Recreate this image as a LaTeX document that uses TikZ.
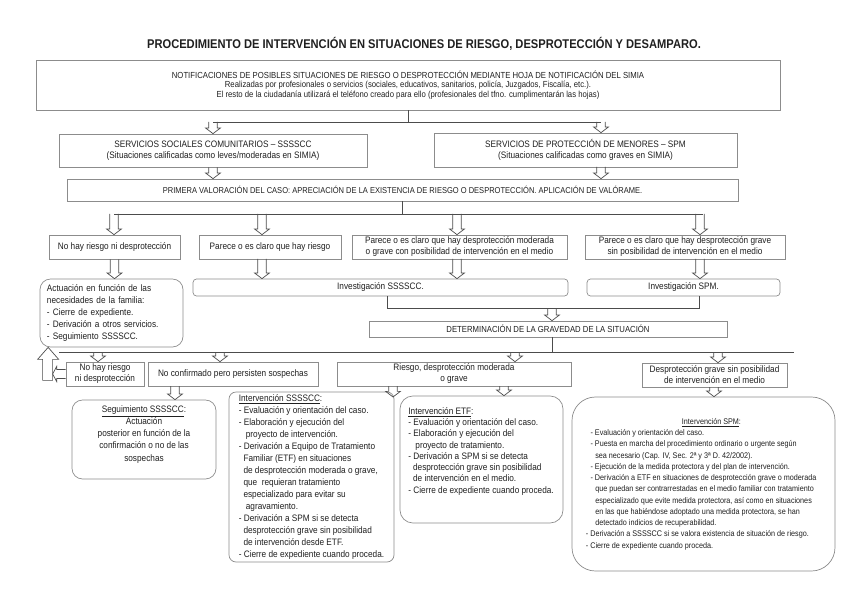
\documentclass[tikz,border=0pt]{standalone}
\usepackage{fontspec}
\setmainfont{Liberation Sans}[FakeStretch=0.88]
\usetikzlibrary{calc,positioning}

\definecolor{bx}{gray}{0.55}
\definecolor{lk}{gray}{0.3}
\definecolor{tx}{gray}{0.12}

\begin{document}
\begin{tikzpicture}[x=0.03cm, y=-0.03cm,
	every node/.style={text=tx, inner sep=1pt, font=\fontsize{8}{10}\selectfont},
	box/.style={draw=bx, line width=0.6pt, align=center},
	rbox/.style={box, rounded corners=#1},
	sz/.style 2 args={minimum width=#1*0.03cm, minimum height=#2*0.03cm},
	lnk/.style={draw=lk, line width=0.6pt},
	hol/.style={lnk, to path={let \p1=(\tikztostart), \p2=(\tikztotarget) in
		({\x1-3.6pt},\y1) -- ({\x1-3.6pt},{\y2+4.8pt}) -- ({\x1-6.3pt},{\y2+4.8pt}) -- (\x1,\y2)
		-- ({\x1+6.3pt},{\y2+4.8pt}) -- ({\x1+3.6pt},{\y2+4.8pt}) -- ({\x1+3.6pt},\y1)}}]
	\useasboundingbox (0,0) rectangle (848,599);

	\node[font=\bfseries\fontsize{10.8}{12}\selectfont] (title) at (424,44)
		{PROCEDIMIENTO DE INTERVENCIÓN EN SITUACIONES DE RIESGO, DESPROTECCIÓN Y DESAMPARO.};

	% notificacion y servicios
	\node[box, sz={744}{50}, font=\fontsize{7.5}{8.1}\selectfont] (top) at (408,85)
		{NOTIFICACIONES DE POSIBLES SITUACIONES DE RIESGO O DESPROTECCIÓN MEDIANTE HOJA DE NOTIFICACIÓN DEL SIMIA\\
		Realizadas por profesionales o servicios (sociales, educativos, sanitarios, policía, Juzgados, Fiscalía, etc.).\\
		El resto de la ciudadanía utilizará el teléfono creado para ello (profesionales del tfno. cumplimentarán las hojas)};
	\node[box, sz={308}{33}, font=\fontsize{8}{9.4}\selectfont] (sss) at (213,150.5)
		{SERVICIOS SOCIALES COMUNITARIOS – SSSSCC\\(Situaciones calificadas como leves/moderadas en SIMIA)};
	\node[box, sz={303}{34}, font=\fontsize{8}{9.4}\selectfont] (spm) at (585.5,150)
		{SERVICIOS DE PROTECCIÓN DE MENORES – SPM\\(Situaciones calificadas como graves en SIMIA)};
	\node[box, sz={671}{22}, font=\fontsize{7.3}{9}\selectfont] (prim) at (402.5,190)
		{PRIMERA VALORACIÓN DEL CASO: APRECIACIÓN DE LA EXISTENCIA DE RIESGO O DESPROTECCIÓN. APLICACIÓN DE VALÓRAME.};

	% primera valoracion
	\node[box, sz={131}{24}] (nr) at (114.5,247) {No hay riesgo ni desprotección};
	\node[box, sz={142}{24}] (pr) at (270,247) {Parece o es claro que hay riesgo};
	\node[box, sz={215}{24}, font=\fontsize{8}{9.4}\selectfont] (pmod) at (459.5,247)
		{Parece o es claro que hay desprotección moderada\\o grave con posibilidad de intervención en el medio};
	\node[box, sz={200}{24}, font=\fontsize{8}{9.4}\selectfont] (pgr) at (685,247)
		{Parece o es claro que hay desprotección grave\\sin posibilidad de intervención en el medio};

	\node[rbox=9pt, align=left, text width=3.87cm, inner xsep=0.21cm, minimum height=68*0.03cm,
		font=\fontsize{8}{10.2}\selectfont] (act) at (111.5,313)
		{Actuación en función de las\\necesidades de la familia:\\- Cierre de expediente.\\
		- Derivación a otros servicios.\\- Seguimiento SSSSCC.};
	\node[rbox=3pt, sz={375}{17}] (invs) at (380.5,287.5) {Investigación SSSSCC.};
	\node[rbox=3pt, sz={193}{17}] (invspm) at (683.5,287.5) {Investigación SPM.};
	\node[box, sz={358}{16}, font=\fontsize{7.5}{9}\selectfont] (det) at (548,329)
		{DETERMINACIÓN DE LA GRAVEDAD DE LA SITUACIÓN};

	% gravedad
	\node[box, sz={78}{24}, font=\fontsize{8}{9.4}\selectfont] (nr2) at (105,374) {No hay riesgo\\ni desprotección};
	\node[box, sz={170}{24}] (nc) at (233,374) {No confirmado pero persisten sospechas};
	\node[box, sz={234}{24}, font=\fontsize{8}{9.4}\selectfont] (rg) at (454,374) {Riesgo, desprotección moderada\\o grave};
	\node[box, sz={145}{24}, font=\fontsize{8}{9.4}\selectfont] (dg) at (714.5,375)
		{Desprotección grave sin posibilidad\\de intervención en el medio};

	% intervenciones
	\node[rbox=9pt, sz={144}{79}, font=\fontsize{8}{10.4}\selectfont] (seg) at (144,439.5)
		{\underline{Seguimiento SSSSCC}:\\Actuación\\posterior en función de la\\confirmación o no de las\\sospechas\\\mbox{}};
	\node[rbox=6pt, align=left, sz={165}{170}, font=\fontsize{8}{10.3}\selectfont] (isss) at (311.5,477)
		{\underline{Intervención SSSSCC}:\\- Evaluación y orientación del caso.\\- Elaboración y ejecución del\\
		\hspace*{6pt}proyecto de intervención.\\- Derivación a Equipo de Tratamiento\\
		\hspace*{4pt}Familiar (ETF) en situaciones\\\hspace*{4pt}de desprotección moderada o grave,\\
		\hspace*{4pt}que~ requieran tratamiento\\\hspace*{4pt}especializado para evitar su\\
		\hspace*{6pt}agravamiento.\\- Derivación a SPM si se detecta\\\hspace*{4pt}desprotección grave sin posibilidad\\
		\hspace*{4pt}de intervención desde ETF.\\- Cierre de expediente cuando proceda.};
	\node[rbox=11pt, sz={163}{127}] (etf) at (481.5,459.5) {};
	\node[align=left, anchor=north west, font=\fontsize{8}{9.6}\selectfont] (etftxt) at (407,406)
		{\underline{Intervención ETF}:\\- Evaluación y orientación del caso.\\- Elaboración y ejecución del\\
		\hspace*{6pt}proyecto de tratamiento.\\- Derivación a SPM si se detecta\\
		\hspace*{4pt}desprotección grave sin posibilidad\\\hspace*{4pt}de intervención en el medio.\\
		- Cierre de expediente cuando proceda.};
	\node[rbox=20pt, align=left, sz={263}{174}, font=\fontsize{7}{9.6}\selectfont] (ispm) at (703.5,484)
		{\hspace*{78pt}\underline{Intervención SPM}:\\- Evaluación y orientación del caso.\\
		- Puesta en marcha del procedimiento ordinario o urgente según\\
		\hspace*{4pt}sea necesario (Cap. IV, Sec. 2ª y 3ª D. 42/2002).\\
		- Ejecución de la medida protectora y del plan de intervención.\\
		- Derivación a ETF en situaciones de desprotección grave o moderada\\
		\hspace*{4pt}que puedan ser contrarrestadas en el medio familiar con tratamiento\\
		\hspace*{4pt}especializado que evite medida protectora, así como en situaciones\\
		\hspace*{4pt}en las que habiéndose adoptado una medida protectora, se han\\
		\hspace*{4pt}detectado indicios de recuperabilidad.\\
		\hspace*{-4pt}- Derivación a SSSSCC si se valora existencia de situación de riesgo.\\
		\hspace*{-4pt}- Cierre de expediente cuando proceda.};

	% conectores
	\coordinate (n1) at (408,122);
	\coordinate (n1l) at (213,122);
	\coordinate (n1r) at (601,122);
	\draw[lnk] (top.south) -- (n1) (n1l) -- (n1r);
	\draw[hol] (n1l) to (n1l |- sss.north);
	\draw[hol] (n1r) to (n1r |- spm.north);
	\coordinate (s2) at (601,167);
	\draw[hol] (sss.south) to (sss.south |- prim.north);
	\draw[hol] (s2) to (s2 |- prim.north);

	\coordinate (p0) at (402.5,214);
	\coordinate (pl) at (114,214);
	\coordinate (pr2) at (703,214);
	\draw[lnk] (prim.south) -- (p0) (pl) -- (pr2);
	\coordinate (v2) at (262,214);
	\coordinate (v3) at (457,214);
	\coordinate (v4) at (700,214);
	\draw[hol] (pl) to (pl |- nr.north);
	\draw[hol] (v2) to (v2 |- pr.north);
	\draw[hol] (v3) to (v3 |- pmod.north);
	\draw[hol] (v4) to (v4 |- pgr.north);

	\coordinate (w2) at (262,259);
	\coordinate (w3) at (457,259);
	\coordinate (w4) at (700,259);
	\draw[hol] (nr.south) to (nr.south |- act.north);
	\draw[hol] (w2) to (w2 |- invs.north);
	\draw[hol] (w3) to (w3 |- invs.north);
	\draw[hol] (w4) to (w4 |- invspm.north);

	\coordinate (x1) at (387,308);
	\coordinate (x2) at (699,308);
	\coordinate (x3) at (552,308);
	\draw[lnk] (x1 |- invs.south) -- (x1) -- (x2) -- (x2 |- invspm.south);
	\draw[hol] (x3) to (x3 |- det.north);

	\coordinate (y0) at (552,352);
	\coordinate (yl) at (59,352);
	\coordinate (yr) at (794,352);
	\draw[lnk] (y0 |- det.south) -- (y0) (yl) -- (yr);
	\coordinate (y1) at (98,352);
	\coordinate (y2) at (220,352);
	\coordinate (y3) at (515,352);
	\coordinate (y4) at (718,352);
	\draw[hol] (y1) to (y1 |- nr2.north);
	\draw[hol] (y2) to (y2 |- nc.north);
	\draw[hol] (y3) to (y3 |- rg.north);
	\draw[hol] (y4) to (y4 |- dg.north);

	\coordinate (z1) at (175,386);
	\coordinate (z2) at (393,386);
	\coordinate (z2e) at (393,397);
	\coordinate (z3) at (504,386);
	\coordinate (z4) at (714,387);
	\draw[hol] (z1) to (z1 |- seg.north);
	\draw[hol] (z2) to (z2e);
	\draw[hol] (z3) to (z3 |- etf.north);
	\draw[hol] (z4) to (z4 |- ispm.north);

	% vuelta a actuacion
	\draw[lnk] (act.south west) ++(8.5,0) -- ++(10.5,12) -- ++(-6,0) -- ++(0,21) -- ++(-10,0)
		-- ++(0,-21) -- ++(-5,0) -- cycle;
	\draw[lnk] (nr2.west) ++(0,-4.5) -- ++(-9,0) -- ++(0,-3) -- ++(-4,7.5) -- ++(4,7.5)
		-- ++(0,-3) -- ++(9,0);
\end{tikzpicture}
\end{document}
